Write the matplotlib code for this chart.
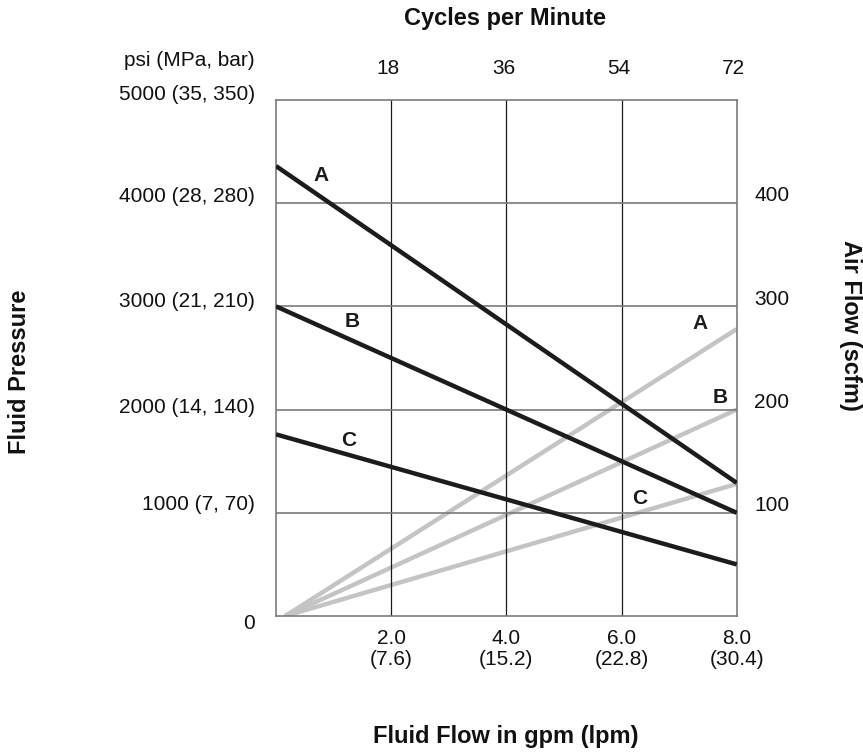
import matplotlib
matplotlib.use('Agg')
import matplotlib.pyplot as plt
import matplotlib.transforms as mtransforms

plt.rcParams['font.family'] = ['Liberation Sans', 'DejaVu Sans']

# fluid flow (gpm) at the two ends of each straight line
flow_ends = [0.0, 8.0]
air_flow_start = 0.16

# fluid pressure lines (psi)
pressure_a = [4360, 1290]
pressure_b = [3000, 1000]
pressure_c = [1760, 500]

# air flow lines (scfm)
air_a = [0, 278]
air_b = [0, 200]
air_c = [0, 128]

flow_ticks = [2.0, 4.0, 6.0, 8.0]
flow_labels = ['2.0', '4.0', '6.0', '8.0']
lpm_labels = ['(7.6)', '(15.2)', '(22.8)', '(30.4)']
cycle_labels = ['18', '36', '54', '72']

psi_ticks = [5000, 4000, 3000, 2000, 1000, 0]
psi_labels = ['5000 (35, 350)', '4000 (28, 280)', '3000 (21, 210)',
              '2000 (14, 140)', '1000 (7, 70)', '0']
psi_label_shift = [50, 65, 45, 25, 80, -70]

air_ticks = [400, 300, 200, 100]
air_labels = ['400', '300', '200', '100']

fig = plt.figure(figsize=(8.63, 7.54), dpi=100)
ax = fig.add_axes([276 / 863, 1 - 616 / 754, 460.7 / 863, 516 / 754])
ax2 = ax.twinx()

ax.set_xlim(0, 8)
ax.set_ylim(0, 5000)
ax2.set_ylim(0, 500)

for s in ax.spines.values():
    s.set_color('#7a7a7a')
    s.set_linewidth(1.2)
for s in ax2.spines.values():
    s.set_visible(False)

ax.set_xticks([])
ax.set_yticks([])
ax2.set_yticks([])

# grid
for x in flow_ticks[:-1]:
    ax.axvline(x, color='#1a1a1a', lw=0.9, zorder=1)
for y in psi_ticks[1:-1]:
    ax.axhline(y, color='#7a7a7a', lw=1.2, zorder=1)

black = '#1c1c1c'
gray = '#c4c4c4'
for p in [pressure_a, pressure_b, pressure_c]:
    ax.plot(flow_ends, p, color=black, lw=3.2, solid_capstyle='butt', zorder=3)
for a in [air_a, air_b, air_c]:
    ax2.plot([air_flow_start, flow_ends[1]], a, color=gray, lw=3.2,
             solid_capstyle='butt', zorder=2)
ax2.set_zorder(ax.get_zorder() - 1)
ax.patch.set_visible(False)

# curve letters
lf = dict(fontsize=15, fontweight='bold', color=black, ha='center', va='center')
ax.text(0.78, 4273, 'A', **lf)
ax.text(1.32, 2849, 'B', **lf)
ax.text(1.27, 1705, 'C', **lf)
ax.text(7.36, 2839, 'A', **lf)
ax.text(7.71, 2122, 'B', **lf)
ax.text(6.32, 1134, 'C', **lf)

tf = dict(fontsize=15, color='#111111')
blend_x = mtransforms.blended_transform_factory(ax.transData, ax.transAxes)
blend_y = mtransforms.blended_transform_factory(ax.transAxes, ax.transData)

for x, l1, l2 in zip(flow_ticks, flow_labels, lpm_labels):
    ax.text(x, -0.043, l1, transform=blend_x, ha='center', va='center', **tf)
    ax.text(x, -0.085, l2, transform=blend_x, ha='center', va='center', **tf)
for x, l in zip(flow_ticks, cycle_labels):
    ax.text(x - 0.05, 1.062, l, transform=blend_x, ha='center', va='center', **tf)

for y, l, d in zip(psi_ticks, psi_labels, psi_label_shift):
    ax.text(-0.0456, y + d, l, transform=blend_y, ha='right', va='center', **tf)
ax.text(-0.0456, 1.0775, 'psi (MPa, bar)', transform=ax.transAxes,
        ha='right', va='center', **tf)

for y, l in zip(air_ticks, air_labels):
    ax2.text(1.0376, y + 7, l, transform=mtransforms.blended_transform_factory(
        ax2.transAxes, ax2.transData), ha='left', va='center', **tf)

bf = dict(fontsize=17, fontweight='bold', color='#111111', ha='center', va='center')
fig.text(505 / 863, 1 - 19 / 754, 'Cycles per Minute', **bf)
fig.text(506 / 863, 1 - 737 / 754, 'Fluid Flow in gpm (lpm)', **bf)
fig.text(20 / 863, 1 - 372 / 754, 'Fluid Pressure', rotation=90, **bf)
fig.text(850 / 863, 1 - 325 / 754, 'Air Flow (scfm)', rotation=-90, **bf)

fig.savefig('out.png', dpi=100)
